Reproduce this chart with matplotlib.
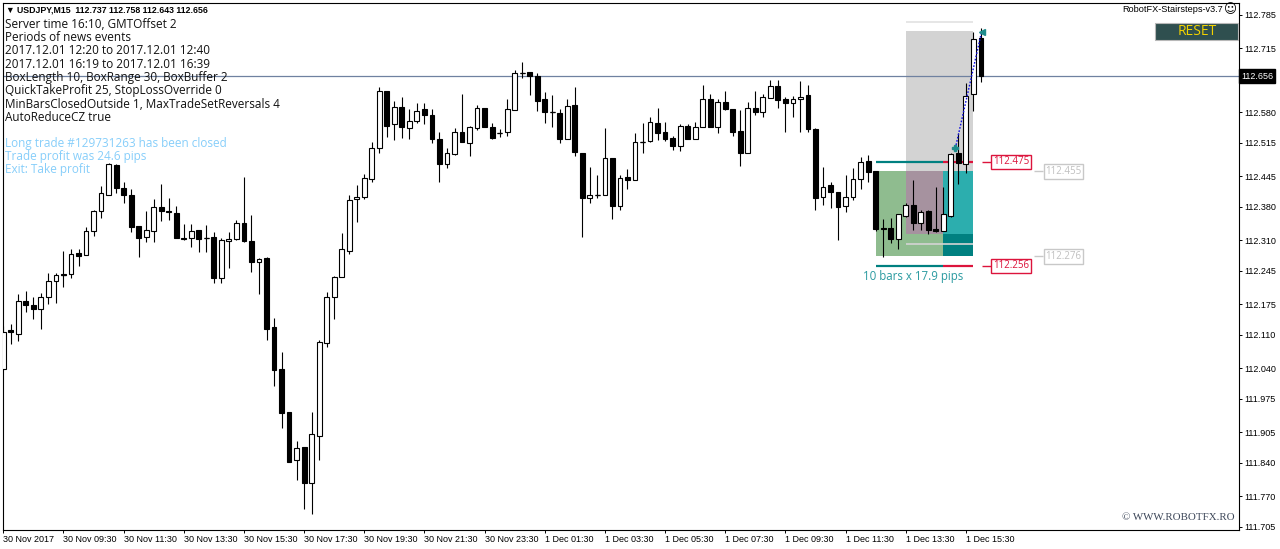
import matplotlib
matplotlib.use('Agg')
import matplotlib.pyplot as plt
import matplotlib.transforms as mtransforms
from matplotlib.patches import Rectangle
import numpy as np

# ---------------- data ----------------
opens = [112.038,112.121,112.112,112.182,112.173,112.165,112.190,112.224,112.237,112.239,
         112.283,112.279,112.329,112.372,112.405,112.469,112.420,112.405,112.340,112.317,
         112.329,112.380,112.372,112.367,112.315,112.315,112.332,112.315,112.317,112.230,
         112.308,112.313,112.346,112.308,112.264,112.272,112.127,112.038,111.948,111.847,
         111.874,111.798,111.897,112.093,112.190,112.232,112.287,112.397,112.401,112.439,
         112.504,112.625,112.555,112.591,112.547,112.561,112.587,112.574,112.523,112.471,
         112.492,112.538,112.515,112.547,112.589,112.549,112.536,112.538,112.585,112.663,
         112.665,112.656,112.608,112.580,112.578,112.523,112.595,112.494,112.399,112.405,
         112.405,112.483,112.382,112.443,112.437,112.517,112.519,112.557,112.538,112.526,
         112.509,112.551,112.523,112.549,112.608,112.549,112.601,112.587,112.540,112.494,
         112.589,112.580,112.610,112.635,112.608,112.599,112.608,112.616,112.545,112.401,
         112.427,112.412,112.382,112.401,112.439,112.477,112.456,112.336,112.336,112.313,
         112.361,112.384,112.346,112.372,112.334,112.329,112.361,112.494,112.471,112.618,
         112.737]
highs = [112.129,112.133,112.197,112.203,112.190,112.199,112.241,112.241,112.287,112.292,
         112.292,112.338,112.374,112.424,112.473,112.471,112.433,112.418,112.340,112.372,
         112.397,112.429,112.399,112.382,112.344,112.344,112.332,112.342,112.327,112.315,
         112.327,112.353,112.443,112.363,112.272,112.275,112.146,112.074,111.948,111.887,
         111.874,111.948,112.100,112.201,112.234,112.325,112.405,112.427,112.450,112.517,
         112.633,112.625,112.604,112.612,112.587,112.599,112.599,112.587,112.538,112.504,
         112.547,112.618,112.551,112.595,112.589,112.557,112.545,112.608,112.669,112.686,
         112.665,112.663,112.623,112.616,112.587,112.608,112.633,112.494,112.464,112.448,
         112.547,112.483,112.448,112.460,112.536,112.557,112.570,112.589,112.559,112.530,
         112.555,112.555,112.559,112.637,112.618,112.608,112.625,112.587,112.585,112.601,
         112.625,112.618,112.648,112.648,112.612,112.614,112.646,112.637,112.547,112.464,
         112.433,112.412,112.448,112.462,112.486,112.490,112.456,112.355,112.357,112.365,
         112.388,112.437,112.374,112.374,112.422,112.422,112.494,112.536,112.642,112.749,
         112.758]
lows = [112.036,112.091,112.098,112.159,112.144,112.123,112.175,112.178,112.211,112.230,
        112.256,112.279,112.319,112.357,112.405,112.410,112.388,112.327,112.275,112.306,
        112.306,112.350,112.353,112.315,112.310,112.296,112.285,112.285,112.220,112.220,
        112.251,112.310,112.306,112.243,112.197,112.100,112.003,111.914,111.842,111.804,
        111.743,111.733,111.847,112.085,112.144,112.232,112.281,112.348,112.397,112.433,
        112.494,112.528,112.521,112.526,112.523,112.557,112.555,112.515,112.433,112.462,
        112.490,112.517,112.488,112.542,112.549,112.523,112.528,112.530,112.585,112.652,
        112.616,112.582,112.557,112.549,112.515,112.523,112.488,112.317,112.388,112.399,
        112.405,112.355,112.374,112.418,112.437,112.494,112.517,112.521,112.519,112.500,
        112.498,112.523,112.523,112.549,112.549,112.536,112.585,112.530,112.467,112.494,
        112.574,112.570,112.610,112.589,112.538,112.570,112.538,112.538,112.374,112.384,
        112.378,112.310,112.369,112.395,112.418,112.433,112.329,112.275,112.304,112.292,
        112.359,112.332,112.332,112.323,112.327,112.329,112.359,112.429,112.452,112.582,
        112.643]
closes = [112.117,112.117,112.182,112.173,112.165,112.190,112.224,112.237,112.238,112.281,
          112.277,112.329,112.372,112.410,112.471,112.420,112.405,112.338,112.315,112.332,
          112.380,112.372,112.369,112.315,112.313,112.329,112.313,112.315,112.230,112.310,
          112.313,112.346,112.308,112.264,112.270,112.123,112.036,111.946,111.842,111.872,
          111.798,111.901,112.095,112.190,112.232,112.292,112.395,112.401,112.441,112.504,
          112.625,112.551,112.591,112.549,112.561,112.582,112.574,112.523,112.471,112.494,
          112.538,112.517,112.549,112.589,112.549,112.526,112.536,112.587,112.663,112.663,
          112.656,112.604,112.580,112.580,112.523,112.593,112.496,112.399,112.405,112.405,
          112.483,112.382,112.441,112.437,112.517,112.517,112.559,112.536,112.523,112.509,
          112.551,112.523,112.549,112.608,112.549,112.601,112.587,112.538,112.494,112.589,
          112.580,112.612,112.635,112.606,112.599,112.608,112.612,112.545,112.399,112.422,
          112.412,112.380,112.401,112.439,112.475,112.454,112.334,112.334,112.313,112.365,
          112.384,112.346,112.369,112.332,112.329,112.365,112.492,112.473,112.614,112.734,
          112.656]

xtick_bars = [0, 8, 16, 24, 32, 40, 48, 56, 64, 72, 80, 88, 96, 104, 112, 120, 128]
xtick_labels = ["30 Nov 2017", "30 Nov 09:30", "30 Nov 11:30", "30 Nov 13:30", "30 Nov 15:30",
                "30 Nov 17:30", "30 Nov 19:30", "30 Nov 21:30", "30 Nov 23:30", "1 Dec 01:30",
                "1 Dec 03:30", "1 Dec 05:30", "1 Dec 07:30", "1 Dec 09:30", "1 Dec 11:30",
                "1 Dec 13:30", "1 Dec 15:30"]
ytick_vals = [112.785, 112.715, 112.580, 112.515, 112.445, 112.380, 112.310, 112.245, 112.175,
              112.110, 112.040, 111.975, 111.905, 111.840, 111.770, 111.705]

current_price = 112.656
title_text = "\u25bc USDJPY,M15  112.737 112.758 112.643 112.656"
info_lines = ["Server time 16:10, GMTOffset 2",
              "Periods of news events",
              "2017.12.01 12:20 to 2017.12.01 12:40",
              "2017.12.01 16:19 to 2017.12.01 16:39",
              "BoxLength 10, BoxRange 30, BoxBuffer 2",
              "QuickTakeProfit 25, StopLossOverride 0",
              "MinBarsClosedOutside 1, MaxTradeSetReversals 4",
              "AutoReduceCZ true"]
trade_lines = ["Long trade #129731263 has been closed",
               "Trade profit was 24.6 pips",
               "Exit: Take profit"]

# stair-step box
box_start, box_split, box_end = 116, 125, 129
zone_start = 120
box_high, box_low = 112.455, 112.276
buy_level, sell_level = 112.475, 112.256
zone_top, zone_line = 112.751, 112.771
cz_level = 112.323
inner_line = 112.302
box_text = "10 bars x 17.9 pips"

# trade
trade_bars = [126.6, 130.1]
trade_prices = [112.504, 112.750]

# ---------------- figure ----------------
W, H = 1280, 549
fig = plt.figure(figsize=(W / 100, H / 100), dpi=100)
fig.patch.set_facecolor('white')

def fx(px):
    return px / W

def fy(py):
    return 1 - py / H

ax = fig.add_axes([fx(2.7), fy(529.5), fx(1239) - fx(2.7), fy(3) - fy(529.5)])
ax.set_facecolor('white')
ax.set_xlim(-0.08, 164.32)
ax.set_ylim(111.6997, 112.8103)

for s in ax.spines.values():
    s.set_color('black')
    s.set_linewidth(0.8)

# ---- box overlays ----
ax.add_patch(Rectangle((zone_start, box_high), box_end - zone_start, zone_top - box_high,
                       fc='#D3D3D3', ec='none', zorder=1))
ax.hlines(zone_line, zone_start, box_end, color='#E4E4E4', lw=1.3, zorder=1)
ax.add_patch(Rectangle((box_start, box_low), box_split - box_start, box_high - box_low,
                       fc='#8FBC8F', ec='none', zorder=1))
ax.add_patch(Rectangle((zone_start, cz_level), box_split - zone_start, box_high - cz_level,
                       fc='#A6929F', ec='none', zorder=1.1))
ax.add_patch(Rectangle((box_split, box_low), box_end - box_split, box_high - box_low,
                       fc='#2CAEAE', ec='none', zorder=1.1))
ax.add_patch(Rectangle((box_split, box_low), box_end - box_split, cz_level - box_low,
                       fc='#008080', ec='none', zorder=1.2))
ax.hlines(inner_line, zone_start, box_end, color='#D4D4D4', lw=1.2, zorder=1.3)
for lvl in (buy_level, sell_level):
    ax.hlines(lvl, box_start, box_split, color='#008080', lw=1.6, zorder=2)
    ax.hlines(lvl, box_split, box_end, color='#DC143C', lw=1.6, zorder=2)

# current price line
ax.axhline(current_price, color='#6F81A0', lw=0.9, zorder=2)

# ---- candles ----
idx = np.arange(len(opens))
o = np.array(opens)
c = np.array(closes)
hi = np.array(highs)
lo = np.array(lows)
bull = c >= o
ax.vlines(idx, lo, hi, color='black', lw=0.8, zorder=3)
ax.bar(idx[bull], (c - o)[bull], bottom=o[bull], width=0.64, color='white',
       edgecolor='black', linewidth=0.8, zorder=4)
ax.bar(idx[~bull], (o - c)[~bull], bottom=c[~bull], width=0.64, color='black',
       edgecolor='black', linewidth=0.8, zorder=4)
doji = np.abs(c - o) < 0.0015
ax.hlines(o[doji], idx[doji] - 0.32, idx[doji] + 0.32, color='black', lw=0.9, zorder=5)

# ---- trade ----
ax.plot(trade_bars, trade_prices, color='#1010E0', ls=(0, (1.2, 1.2)), lw=1.0, zorder=6)
ax.plot(trade_bars[0], trade_prices[0], marker='P', ms=4, color='#1E8C8C', zorder=7)
ax.plot(trade_bars[1], trade_prices[1], marker='<', ms=4, color='#1E8C8C', zorder=7)

# ---- price labels ----
def price_label(x0, x1, level, text, color, tcolor):
    ax.hlines(level, x0, x1, color=color, lw=1.0, zorder=5, clip_on=False)
    ax.text(x1 + 0.28, level, text, ha='left', va='center', color=tcolor, fontsize=7,
            family=['Open Sans', 'DejaVu Sans'], zorder=6,
            bbox=dict(boxstyle='square,pad=0.18', fc='white', ec=color, lw=1.0))

price_label(130.1, 131.3, buy_level, f"{buy_level:.3f}", '#DC143C', '#DC143C')
price_label(130.1, 131.3, sell_level, f"{sell_level:.3f}", '#DC143C', '#DC143C')
price_label(137.0, 138.3, box_high, f"{box_high:.3f}", '#C8C8C8', '#C0C0C0')
price_label(137.0, 138.3, box_low, f"{box_low:.3f}", '#C8C8C8', '#C0C0C0')

ax.annotate(box_text, xy=((box_start + box_end) / 2 - 1.5, sell_level), xytext=(0, -7.5),
            textcoords='offset points', ha='center', va='center', color='#2A9AA0',
            fontsize=8.3, family=['Open Sans', 'DejaVu Sans'])

# ---- axes ticks ----
ax.yaxis.tick_right()
ax.set_yticks(ytick_vals)
ax.set_yticklabels([f"{v:.3f}" for v in ytick_vals], family=['Liberation Sans', 'DejaVu Sans'])
ax.tick_params(axis='y', direction='out', length=2.4, width=0.7, pad=1.5, labelsize=6.5,
               colors='black')
ax.set_xticks(xtick_bars)
ax.set_xticklabels(xtick_labels, family=['Liberation Sans', 'DejaVu Sans'])
ax.tick_params(axis='x', direction='out', length=2.4, width=0.7, pad=1.5, labelsize=6.5)
for lbl in ax.get_xticklabels():
    lbl.set_horizontalalignment('left')

blend = mtransforms.blended_transform_factory(ax.transAxes, ax.transData)
ax.text(1.0015, current_price, f"{current_price:.3f}", transform=blend, ha='left', va='center',
        color='white', fontsize=6.5, family=['Liberation Sans', 'DejaVu Sans'], zorder=10,
        bbox=dict(boxstyle='square,pad=0.25', fc='black', ec='black'), clip_on=False)

# ---- texts ----
fig.text(fx(6), fy(10), title_text, ha='left', va='center', fontsize=6.3, fontweight='bold',
         family=['Liberation Sans', 'DejaVu Sans'])
y0 = 24.3
for k, line in enumerate(info_lines):
    fig.text(fx(5), fy(y0 + k * 13.3), line, ha='left', va='center', fontsize=8.5,
             family=['Open Sans', 'DejaVu Sans'], color='#111111')
for k, line in enumerate(trade_lines):
    fig.text(fx(5), fy(143.3 + k * 13.1), line, ha='left', va='center', fontsize=8.5,
             family=['Open Sans', 'DejaVu Sans'], color='#87CEFA')

fig.text(fx(1223), fy(10), "RobotFX-Stairsteps-v3.7", ha='right', va='center',
         fontsize=6.6, family=['Liberation Sans', 'DejaVu Sans'])
fig.text(fx(1230), fy(10), "\u263a", ha='center', va='center',
         fontsize=9, family=['DejaVu Sans'])
fig.patches.append(Rectangle((fx(1155), fy(40)), fx(1238) - fx(1155), fy(22.7) - fy(40),
                             transform=fig.transFigure, fc='#2F4F4F', ec='#B8B8B8', lw=0.8))
fig.text(fx(1197), fy(31.5), "RESET", ha='center', va='center', fontsize=10,
         color='#F2D200', family=['Open Sans', 'DejaVu Sans'])
fig.text(fx(1235), fy(517), "\u00a9 WWW.ROBOTFX.RO", ha='right', va='center', fontsize=7.8,
         color='#3C4658', family=['Liberation Serif', 'DejaVu Serif'])

fig.savefig('out.png', dpi=100, facecolor='white')
